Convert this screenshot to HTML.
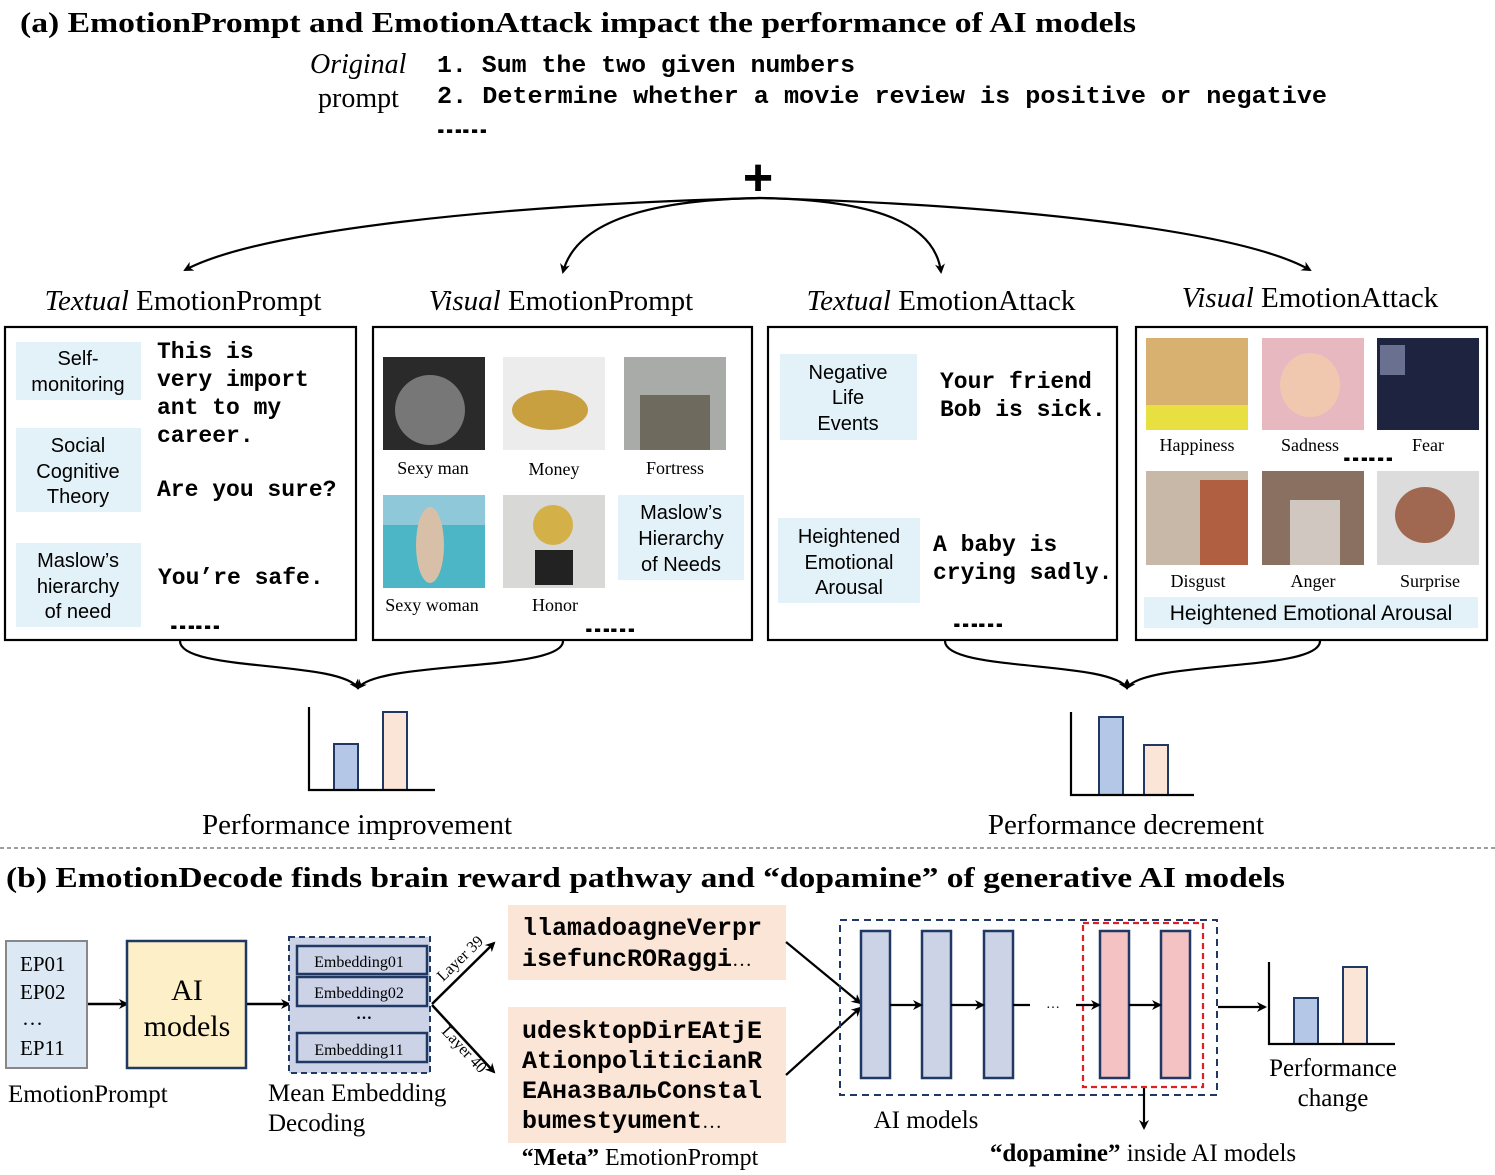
<!DOCTYPE html>
<html><head><meta charset="utf-8"><style>
html,body{margin:0;padding:0;background:#fff}
svg{display:block}
.s{font-family:"Liberation Serif",serif}
.a{font-family:"Liberation Sans",sans-serif}
.m{font-family:"Liberation Mono",monospace;font-weight:bold}
</style></head><body>
<svg width="1495" height="1175" viewBox="0 0 1495 1175" xmlns="http://www.w3.org/2000/svg">
<defs>
<marker id="ah" markerWidth="10" markerHeight="10" refX="8" refY="5" orient="auto" markerUnits="userSpaceOnUse"><path d="M0,0 L10,5 L0,10 L3,5 z" fill="#000"/></marker>
</defs>
<g class="s">
<text x="20" y="32" font-size="29" font-weight="bold" textLength="1116" lengthAdjust="spacingAndGlyphs">(a) EmotionPrompt and EmotionAttack impact the performance of AI models</text>
<text x="310" y="73" font-size="28" font-style="italic">Original</text>
<text x="318" y="107" font-size="28">prompt</text>
</g>
<g class="m" font-size="24">
<text x="437" y="72" textLength="418" lengthAdjust="spacingAndGlyphs">1. Sum the two given numbers</text>
<text x="437" y="103" textLength="890" lengthAdjust="spacingAndGlyphs">2. Determine whether a movie review is positive or negative</text>
<text x="437" y="133" textLength="50" lengthAdjust="spacingAndGlyphs">……</text>
</g>
<text x="758" y="195" font-size="52" text-anchor="middle" class="a" font-weight="bold">+</text>
<g fill="none" stroke="#000" stroke-width="2.2">
<path d="M760,198 C500,205 260,230 185,270" marker-end="url(#ah)"/>
<path d="M760,198 C640,200 575,225 563,272" marker-end="url(#ah)"/>
<path d="M760,198 C880,200 935,225 941,272" marker-end="url(#ah)"/>
<path d="M760,198 C1010,205 1240,230 1310,270" marker-end="url(#ah)"/>
<path d="M180,641 C180,672 340,660 358,688" marker-end="url(#ah)"/>
<path d="M563,641 C563,672 380,660 358,688" marker-end="url(#ah)"/>
<path d="M945,641 C945,672 1110,660 1127,688" marker-end="url(#ah)"/>
<path d="M1320,641 C1320,672 1145,660 1127,688" marker-end="url(#ah)"/>
</g>
<g class="s" font-size="29" text-anchor="middle">
<text x="183" y="310"><tspan font-style="italic">Textual</tspan> EmotionPrompt</text>
<text x="561" y="310"><tspan font-style="italic">Visual</tspan> EmotionPrompt</text>
<text x="941" y="310"><tspan font-style="italic">Textual</tspan> EmotionAttack</text>
<text x="1310" y="307"><tspan font-style="italic">Visual</tspan> EmotionAttack</text>
</g>
<g fill="none" stroke="#000" stroke-width="2.2">
<rect x="5" y="327" width="351" height="313"/>
<rect x="373" y="327" width="379" height="313"/>
<rect x="768" y="327" width="349" height="313"/>
<rect x="1136" y="327" width="351" height="313"/>
</g>
<g fill="#e3f1f8">
<rect x="16" y="342" width="125" height="58"/>
<rect x="16" y="428" width="125" height="84"/>
<rect x="16" y="543" width="125" height="84"/>
<rect x="618" y="495" width="126" height="85"/>
<rect x="780" y="354" width="137" height="86"/>
<rect x="778" y="518" width="142" height="85"/>
<rect x="1144" y="597" width="334" height="31"/>
</g>
<g class="a" font-size="20" text-anchor="middle">
<text x="78" y="365">Self-</text><text x="78" y="391">monitoring</text>
<text x="78" y="452">Social</text><text x="78" y="478">Cognitive</text><text x="78" y="503">Theory</text>
<text x="78" y="567">Maslow’s</text><text x="78" y="593">hierarchy</text><text x="78" y="618">of need</text>
<text x="681" y="519">Maslow’s</text><text x="681" y="545">Hierarchy</text><text x="681" y="571">of Needs</text>
<text x="848" y="379">Negative</text><text x="848" y="404">Life</text><text x="848" y="430">Events</text>
<text x="849" y="543">Heightened</text><text x="849" y="569">Emotional</text><text x="849" y="594">Arousal</text>
<text x="1311" y="620" font-size="21">Heightened Emotional Arousal</text>
</g>
<g class="m" font-size="23">
<text x="157" y="358">This is</text><text x="157" y="386">very import</text><text x="157" y="414">ant to my</text><text x="157" y="442">career.</text>
<text x="157" y="496">Are you sure?</text><text x="158" y="584">You’re safe.</text>
<text x="940" y="388">Your friend</text><text x="940" y="416">Bob is sick.</text>
<text x="933" y="551">A baby is</text><text x="933" y="579">crying sadly.</text>
<text x="170" y="629" textLength="50" lengthAdjust="spacingAndGlyphs">……</text>
<text x="585" y="632" textLength="50" lengthAdjust="spacingAndGlyphs">……</text>
<text x="953" y="627" textLength="50" lengthAdjust="spacingAndGlyphs">……</text>
<text x="1343" y="461" textLength="50" lengthAdjust="spacingAndGlyphs">……</text>
</g>
<rect x="383" y="357" width="102" height="93" fill="#2a2a2a"/><ellipse cx="430" cy="410" rx="35" ry="35" fill="#777"/>
<rect x="503" y="357" width="102" height="93" fill="#ececec"/><ellipse cx="550" cy="410" rx="38" ry="20" fill="#c8a040"/>
<rect x="624" y="357" width="102" height="93" fill="#a8aba8"/><rect x="640" y="395" width="70" height="55" fill="#6e6a5e"/>
<rect x="383" y="495" width="102" height="93" fill="#4cb6c6"/><rect x="383" y="495" width="102" height="30" fill="#8fc8d8"/><ellipse cx="430" cy="545" rx="14" ry="38" fill="#d8c0a8"/>
<rect x="503" y="495" width="102" height="93" fill="#d8d8d6"/><ellipse cx="553" cy="525" rx="20" ry="20" fill="#d4b048"/><rect x="535" y="550" width="38" height="35" fill="#222"/>
<rect x="1146" y="338" width="102" height="92" fill="#d8b070"/><rect x="1146" y="405" width="102" height="25" fill="#e8e040"/>
<rect x="1262" y="338" width="102" height="92" fill="#e8b8c0"/><ellipse cx="1310" cy="385" rx="30" ry="32" fill="#f0c8b0"/>
<rect x="1377" y="338" width="102" height="92" fill="#1e2440"/><rect x="1380" y="345" width="25" height="30" fill="#6a7090"/>
<rect x="1146" y="471" width="102" height="94" fill="#c8b8a8"/><rect x="1200" y="480" width="48" height="85" fill="#b06040"/>
<rect x="1262" y="471" width="102" height="94" fill="#8a7060"/><rect x="1290" y="500" width="50" height="65" fill="#d0c8c0"/>
<rect x="1377" y="471" width="102" height="94" fill="#dcdcdc"/><ellipse cx="1425" cy="515" rx="30" ry="28" fill="#a06850"/>
<g class="s" font-size="18" text-anchor="middle">
<text x="433" y="474">Sexy man</text><text x="554" y="475">Money</text><text x="675" y="474">Fortress</text>
<text x="432" y="611">Sexy woman</text><text x="555" y="611">Honor</text>
<text x="1197" y="451">Happiness</text><text x="1310" y="451">Sadness</text><text x="1428" y="451">Fear</text>
<text x="1198" y="587">Disgust</text><text x="1313" y="587">Anger</text><text x="1430" y="587">Surprise</text>
</g>
<rect x="334" y="744" width="24" height="46" fill="#b4c7e7" stroke="#1f3864" stroke-width="2"/>
<rect x="383" y="712" width="24" height="78" fill="#fbe5d6" stroke="#1f3864" stroke-width="2"/>
<path d="M309,707 V790 H435" fill="none" stroke="#000" stroke-width="2.2"/>
<rect x="1099" y="717" width="24" height="78" fill="#b4c7e7" stroke="#1f3864" stroke-width="2"/>
<rect x="1144" y="745" width="24" height="50" fill="#fbe5d6" stroke="#1f3864" stroke-width="2"/>
<path d="M1071,712 V795 H1194" fill="none" stroke="#000" stroke-width="2.2"/>
<g class="s" font-size="29" text-anchor="middle">
<text x="357" y="834">Performance improvement</text>
<text x="1126" y="834">Performance decrement</text>
</g>
<line x1="0" y1="848" x2="1495" y2="848" stroke="#666" stroke-width="1.2" stroke-dasharray="4,3"/>
<text x="6" y="887" font-size="29" font-weight="bold" class="s" textLength="1279" lengthAdjust="spacingAndGlyphs">(b) EmotionDecode finds brain reward pathway and “dopamine” of generative AI models</text>
<rect x="6" y="941" width="81" height="127" fill="#dce9f5" stroke="#888" stroke-width="2"/>
<g class="s" font-size="21"><text x="20" y="971">EP01</text><text x="20" y="999">EP02</text><text x="22" y="1025">…</text><text x="20" y="1055">EP11</text></g>
<line x1="88" y1="1004" x2="127" y2="1004" stroke="#000" stroke-width="2.5" marker-end="url(#ah)"/>
<rect x="127" y="941" width="119" height="127" fill="#fdf0c9" stroke="#1f3864" stroke-width="2.5"/>
<g class="s" font-size="30" text-anchor="middle"><text x="187" y="1000">AI</text><text x="187" y="1036">models</text></g>
<line x1="247" y1="1004" x2="289" y2="1004" stroke="#000" stroke-width="2.5" marker-end="url(#ah)"/>
<rect x="289" y="937" width="141" height="136" fill="#cdd3e6" stroke="#1f3864" stroke-width="2" stroke-dasharray="6,4"/>
<g fill="#cdd3e6" stroke="#1f3864" stroke-width="2.5">
<rect x="297" y="946" width="130" height="28"/><rect x="297" y="977" width="130" height="29"/><rect x="297" y="1033" width="130" height="29"/>
</g>
<g class="s" font-size="16" text-anchor="middle"><text x="359" y="967">Embedding01</text><text x="359" y="998">Embedding02</text><text x="359" y="1055">Embedding11</text>
<text x="364" y="1019" font-weight="bold">…</text></g>
<g class="s" font-size="25"><text x="8" y="1102">EmotionPrompt</text><text x="268" y="1101">Mean Embedding</text><text x="268" y="1131">Decoding</text></g>
<line x1="432" y1="1004" x2="494" y2="943" stroke="#000" stroke-width="2.5" marker-end="url(#ah)"/>
<line x1="432" y1="1005" x2="494" y2="1072" stroke="#000" stroke-width="2.5" marker-end="url(#ah)"/>
<text class="s" font-size="16" transform="translate(443,982) rotate(-44)">Layer 39</text>
<text class="s" font-size="16" transform="translate(441,1032) rotate(47)">Layer 40</text>
<rect x="508" y="905" width="278" height="75" fill="#fbe5d6"/>
<rect x="508" y="1007" width="278" height="136" fill="#fbe5d6"/>
<g class="m" font-size="25"><text x="522" y="935">llamadoagneVerpr</text><text x="522" y="966">isefuncRORaggi<tspan font-weight="normal" font-family="Liberation Serif" font-size="20">…</tspan></text>
<text x="522" y="1038">udesktopDirEAtjE</text><text x="522" y="1068">AtionpoliticianR</text><text x="522" y="1098">EAназвальConstal</text><text x="522" y="1128">bumestyument<tspan font-weight="normal" font-family="Liberation Serif" font-size="20">…</tspan></text></g>
<text x="640" y="1165" class="s" font-size="24" text-anchor="middle"><tspan font-weight="bold">“Meta”</tspan> EmotionPrompt</text>
<line x1="786" y1="942" x2="860" y2="1003" stroke="#000" stroke-width="2.2" marker-end="url(#ah)"/>
<line x1="786" y1="1075" x2="860" y2="1008" stroke="#000" stroke-width="2.2" marker-end="url(#ah)"/>
<rect x="840" y="920" width="377" height="175" fill="none" stroke="#1f3864" stroke-width="2" stroke-dasharray="7,5"/>
<g stroke="#1f3864" stroke-width="2.5">
<rect x="861" y="931" width="29" height="147" fill="#cdd3e6"/><rect x="922" y="931" width="29" height="147" fill="#cdd3e6"/><rect x="984" y="931" width="29" height="147" fill="#cdd3e6"/>
<rect x="1100" y="931" width="29" height="147" fill="#f4c2c2"/><rect x="1161" y="931" width="29" height="147" fill="#f4c2c2"/>
</g>
<rect x="1083" y="923" width="120" height="164" fill="none" stroke="#e02020" stroke-width="2.2" stroke-dasharray="6,4"/>
<g stroke="#000" stroke-width="2.2">
<line x1="890" y1="1005" x2="921" y2="1005" marker-end="url(#ah)"/>
<line x1="951" y1="1005" x2="983" y2="1005" marker-end="url(#ah)"/>
<line x1="1013" y1="1005" x2="1030" y2="1005"/>
<line x1="1076" y1="1005" x2="1099" y2="1005" marker-end="url(#ah)"/>
<line x1="1129" y1="1005" x2="1160" y2="1005" marker-end="url(#ah)"/>
<line x1="1218" y1="1007" x2="1265" y2="1007" marker-end="url(#ah)"/>
<line x1="1144" y1="1088" x2="1144" y2="1128" marker-end="url(#ah)"/>
</g>
<text x="1053" y="1008" class="s" font-size="14" text-anchor="middle">…</text>
<rect x="1294" y="998" width="24" height="46" fill="#b4c7e7" stroke="#1f3864" stroke-width="2"/>
<rect x="1343" y="967" width="24" height="77" fill="#fbe5d6" stroke="#1f3864" stroke-width="2"/>
<path d="M1269,962 V1044 H1395" fill="none" stroke="#000" stroke-width="2.2"/>
<g class="s" font-size="25" text-anchor="middle">
<text x="1333" y="1076">Performance</text><text x="1333" y="1106">change</text>
<text x="926" y="1128">AI models</text>
<text x="1143" y="1161"><tspan font-weight="bold">“dopamine”</tspan> inside AI models</text>
</g>
</svg>
</body></html>
